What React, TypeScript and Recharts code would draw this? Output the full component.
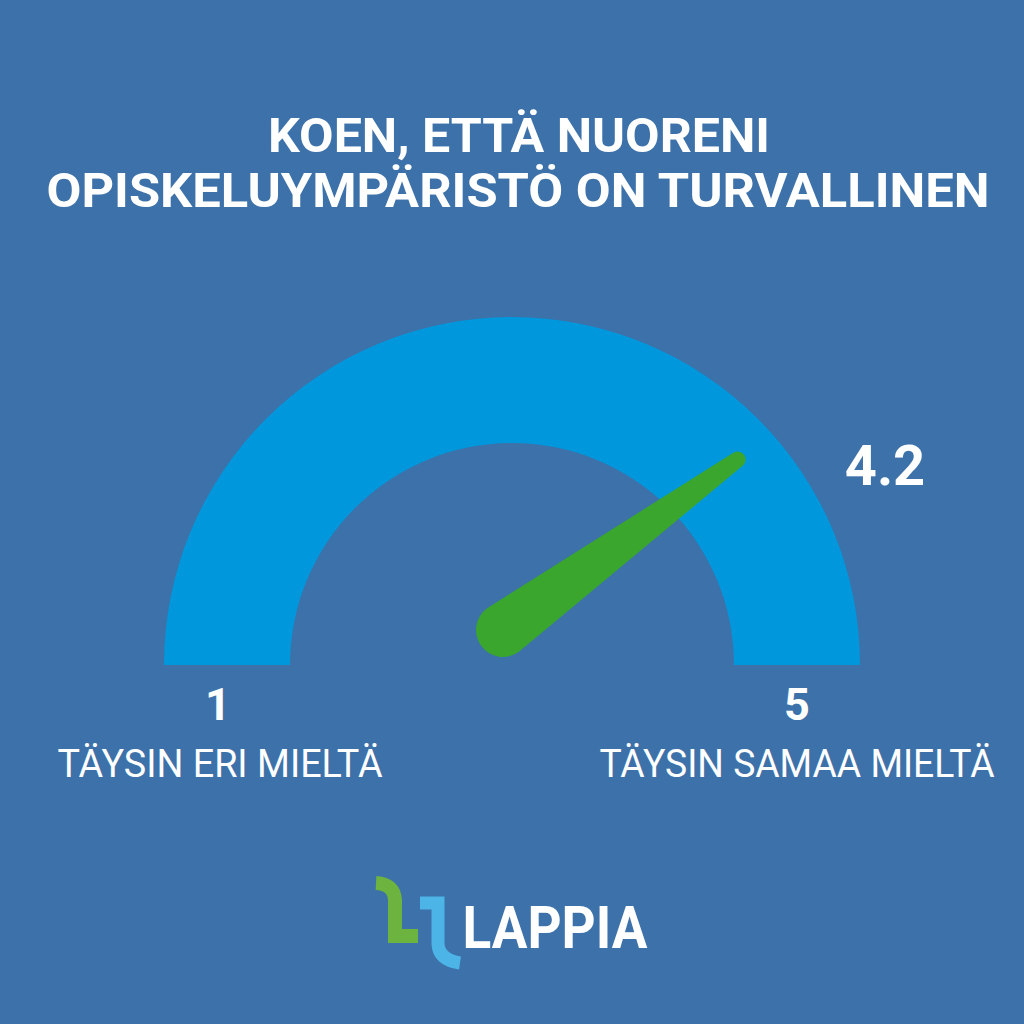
import React from "react";
import { PieChart, Pie, Cell } from "recharts";

const scaleMin = 1;
const scaleMax = 5;
const score = 4.2;
const scaleLabels = ["TÄYSIN ERI MIELTÄ", "TÄYSIN SAMAA MIELTÄ"];
const titleLines = ["KOEN, ETTÄ NUORENI", "OPISKELUYMPÄRISTÖ ON TURVALLINEN"];

const BG = "#3d71a9";
const ARC = "#0097dc";
const NEEDLE = "#3aa62e";

const arcData = [{ name: "scale", value: scaleMax - scaleMin }];
const needleData = [
  { name: "score", value: score - scaleMin },
  { name: "rest", value: scaleMax - score },
];

// needle drawn at the end angle of the "score" sector
function renderNeedle(props: any) {
  if (props.index !== 0) return null;
  const { cx, cy } = props;
  const angle =
    typeof props.endAngle === "number" ? props.endAngle : 180 - props.percent * 180;
  const rad = (-angle * Math.PI) / 180;
  const len = 290;
  const r1 = 27;
  const r2 = 8;
  const dx = Math.cos(rad);
  const dy = Math.sin(rad);
  const px = -dy;
  const py = dx;
  const tx = cx + dx * len;
  const ty = cy + dy * len;
  const d = [
    `M ${cx + px * r1} ${cy + py * r1}`,
    `L ${tx + px * r2} ${ty + py * r2}`,
    `A ${r2} ${r2} 0 0 0 ${tx - px * r2} ${ty - py * r2}`,
    `L ${cx - px * r1} ${cy - py * r1}`,
    `A ${r1} ${r1} 0 0 0 ${cx + px * r1} ${cy + py * r1}`,
    "Z",
  ].join(" ");
  return <path d={d} fill={NEEDLE} />;
}

export default function App() {
  const font = "Roboto, 'Noto Sans', sans-serif";
  return (
    <div
      style={{
        position: "absolute",
        left: 0,
        top: 0,
        width: 1024,
        height: 1024,
        background: BG,
        overflow: "hidden",
      }}
    >
      <div style={{ position: "absolute", left: 0, top: 0 }}>
        <PieChart width={1024} height={1024} margin={{ top: 0, right: 0, bottom: 0, left: 0 }}>
          <Pie
            data={arcData}
            dataKey="value"
            cx={512}
            cy={665}
            startAngle={180}
            endAngle={0}
            innerRadius={222}
            outerRadius={348}
            stroke="none"
            isAnimationActive={false}
          >
            <Cell fill={ARC} />
          </Pie>
          <Pie
            data={needleData}
            dataKey="value"
            cx={503}
            cy={630}
            startAngle={180}
            endAngle={0}
            innerRadius={0}
            outerRadius={10}
            stroke="none"
            fill="transparent"
            label={renderNeedle}
            labelLine={false}
            isAnimationActive={false}
          >
            {needleData.map((d) => (
              <Cell key={d.name} fill="transparent" />
            ))}
          </Pie>
        </PieChart>
      </div>
      <svg
        width={1024}
        height={1024}
        style={{ position: "absolute", left: 0, top: 0, pointerEvents: "none" }}
      >
        <g fill="#ffffff" fontFamily={font} textAnchor="middle">
          <text x={519} y={152} fontSize={48} fontWeight={700} textLength={502} lengthAdjust="spacingAndGlyphs">
            {titleLines[0]}
          </text>
          <text x={518} y={207} fontSize={48} fontWeight={700} textLength={943} lengthAdjust="spacingAndGlyphs">
            {titleLines[1]}
          </text>
          <text x={885} y={485} fontSize={56} fontWeight={700}>
            {score.toFixed(1)}
          </text>
          <text x={218} y={720} fontSize={45} fontWeight={700}>
            {scaleMin}
          </text>
          <text x={797} y={720} fontSize={45} fontWeight={700}>
            {scaleMax}
          </text>
          <text x={220} y={777} fontSize={38} textLength={325} lengthAdjust="spacingAndGlyphs">
            {scaleLabels[0]}
          </text>
          <text x={797} y={777} fontSize={38} textLength={395} lengthAdjust="spacingAndGlyphs">
            {scaleLabels[1]}
          </text>
          <text x={555} y={948} fontSize={60} fontWeight={700} textLength={185} lengthAdjust="spacingAndGlyphs">
            LAPPIA
          </text>
        </g>
        {/* logo mark */}
        <path
          d="M 376 883 Q 394 884 395 900 L 395 936 L 418 936"
          fill="none"
          stroke="#6cb33f"
          strokeWidth={14}
        />
        <path
          d="M 420 903 L 438 903 L 438 944 Q 439 960 460 963"
          fill="none"
          stroke="#4db4e8"
          strokeWidth={13}
        />
      </svg>
    </div>
  );
}
